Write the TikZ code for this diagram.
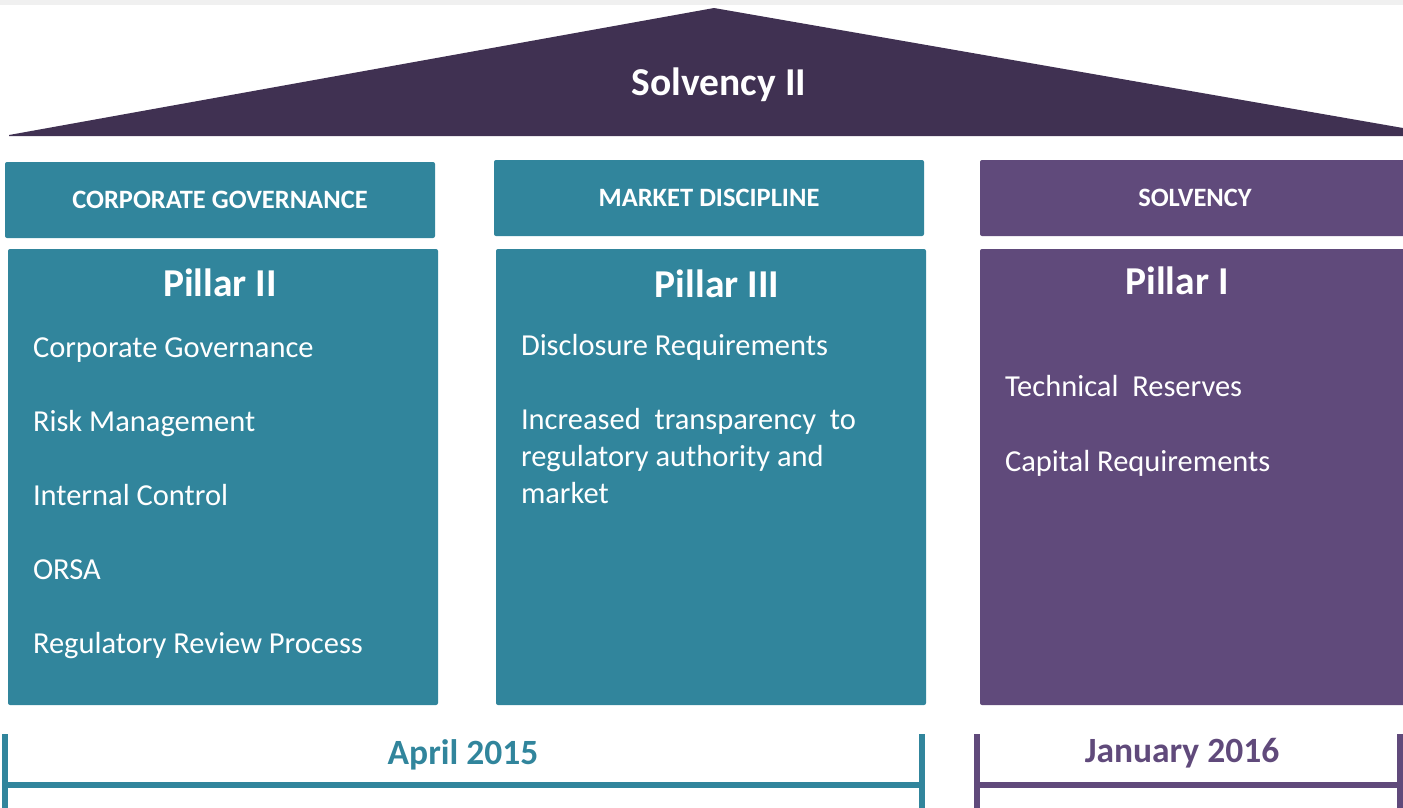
\documentclass[tikz,border=0pt]{standalone}
\usepackage{fontspec}
\setmainfont{Carlito}
\usetikzlibrary{positioning}

\definecolor{pillarteal}{HTML}{31859C}
\definecolor{pillarplum}{HTML}{604A7B}
\definecolor{roofplum}{HTML}{403152}
\definecolor{bandgray}{HTML}{F0F0F0}

\begin{document}
\begin{tikzpicture}
  [
  x=1pt, y=-1pt, line width=6pt,
  header/.style={rectangle, minimum height=76pt, minimum width=430pt, inner sep=0pt, rounded corners=2pt, text=white, font=\fontsize{26.5}{30}\selectfont\bfseries},
  pillar/.style={rectangle, minimum height=456pt, minimum width=430pt, inner sep=0pt, rounded corners=2pt},
  title/.style={text=white, inner sep=0pt, font=\fontsize{39.5}{46}\selectfont\bfseries},
  item/.style={anchor=base west, text=white, inner sep=0pt, align=left, font=\fontsize{30.5}{37}\selectfont},
  date/.style={anchor=base, inner sep=0pt, font=\fontsize{35.5}{42}\selectfont\bfseries}
  ]
\useasboundingbox (0,0) rectangle (1403,807);

\fill[bandgray] (0,0) rectangle (1403,5);

% roof
\fill[roofplum] (9,135) -- (714,8) -- (1403,128) -- (1403,136) -- (9,136) -- cycle;
\node[title] (roof) at (719,85) {Solvency II};

\node[header, fill=pillarteal] (cg) at (220,200) {CORPORATE GOVERNANCE};
\node[header, fill=pillarteal] (md) at (709,198) {MARKET DISCIPLINE};
\node[header, fill=pillarplum] (solv) at (1195,198) {SOLVENCY};

\node[pillar, fill=pillarteal] (p2) at (223,477) {};
\node[pillar, fill=pillarteal] (p3) at (711,477) {};
\node[pillar, fill=pillarplum] (p1) at (1195,477) {};

\node[title] (p2t) at (220,283) {Pillar II};
\node[title] (p3t) at (717,284) {Pillar III};
\node[title] (p1t) at (1177,281) {Pillar I};

\foreach \t [count=\i] in {Corporate Governance, Risk Management, Internal Control, ORSA, Regulatory Review Process} {
  \node[item] (p2i\i) at (30,283+74*\i) {\t};
}

\node[item] (p3i1) at (518,355) {Disclosure Requirements};
\node[item, anchor=north west] (p3i2) at (518,405) {Increased\ \ transparency\ \ to\\regulatory authority and\\market};

\node[item] (p1i1) at (1002,396) {Technical\ \ Reserves};
\node[item] (p1i2) at (1002,471) {Capital Requirements};

% timeline
\draw[pillarteal] (5,734) -- (5,810) (5,785) -- (922,785) (922,734) -- (922,810);
\node[date, text=pillarteal] (apr) at (463,764) {April 2015};

\draw[pillarplum] (977,734) -- (977,810) (977,785) -- (1400,785) (1400,734) -- (1400,810);
\node[date, text=pillarplum] (jan) at (1182,762) {January 2016};
\end{tikzpicture}
\end{document}
